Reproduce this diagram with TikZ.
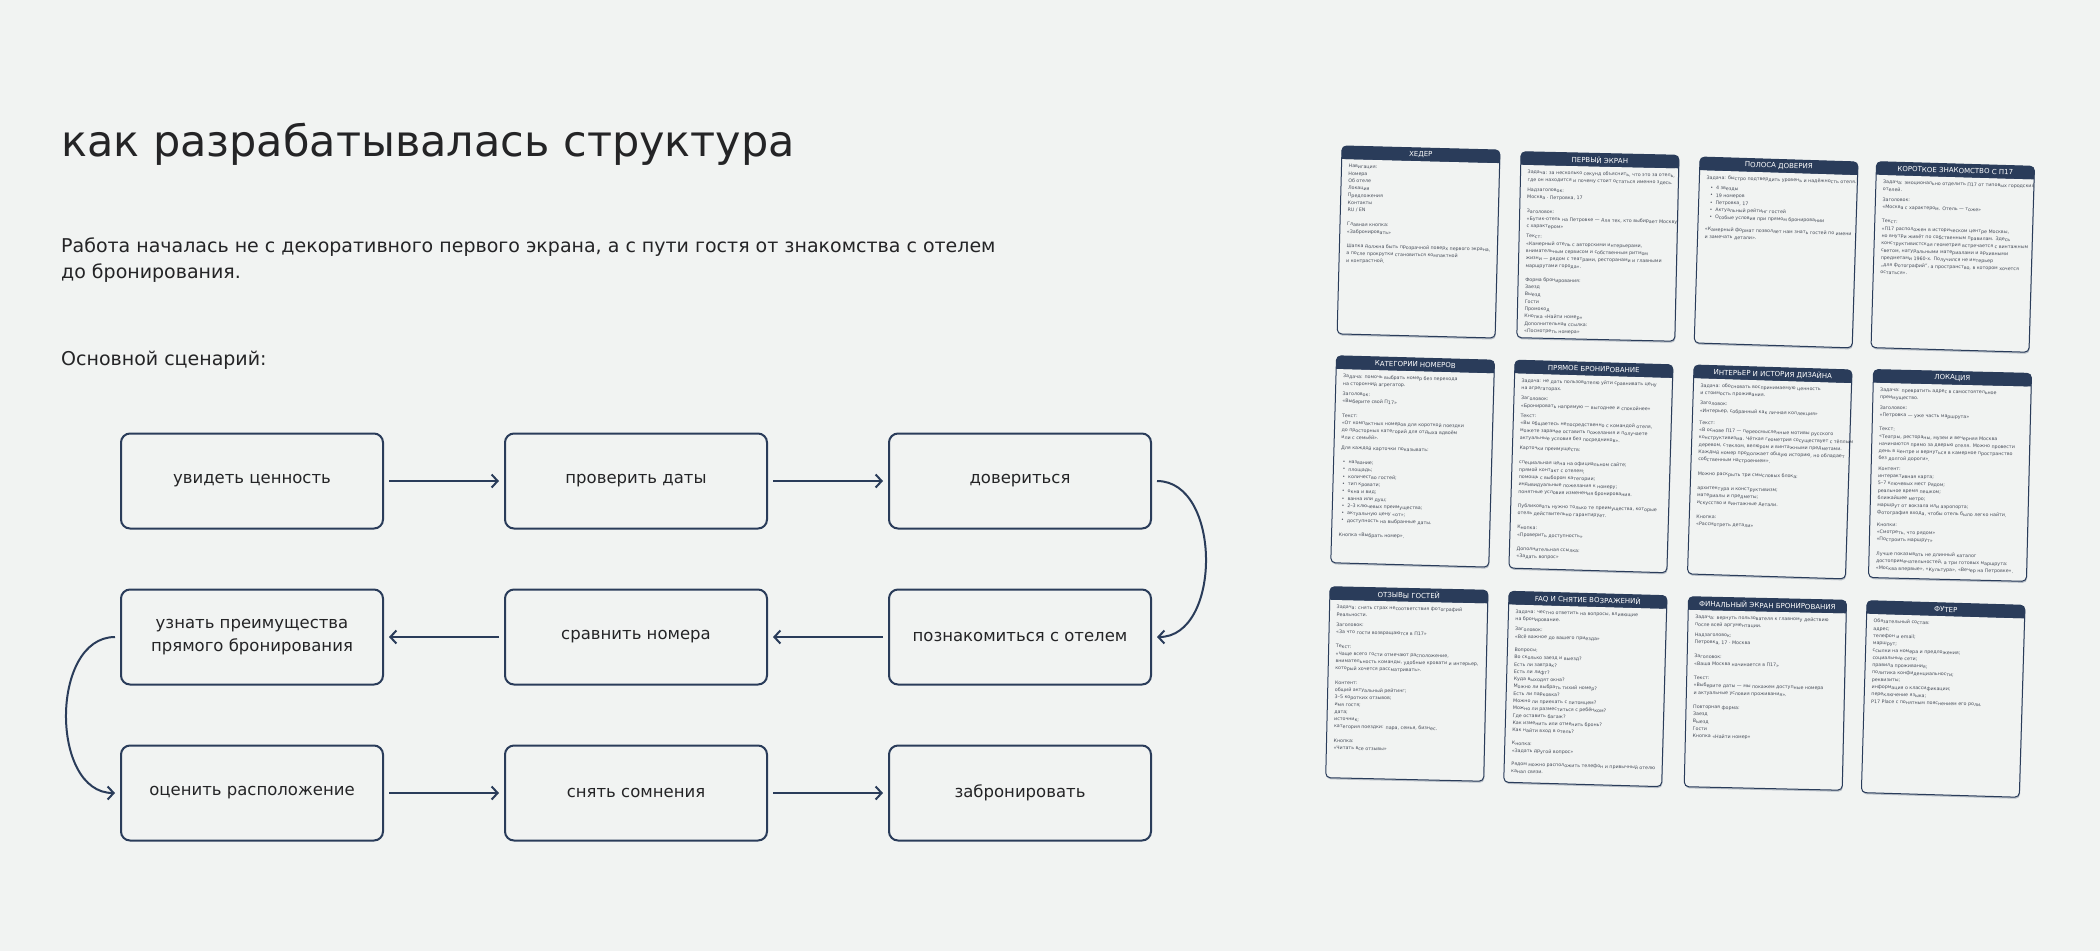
\documentclass[tikz,border=0pt]{standalone}
\usepackage{fontspec}
\setmainfont{DejaVu Sans}
\usetikzlibrary{positioning,arrows.meta,shadows}
\definecolor{pageBg}{RGB}{241,243,242}
\definecolor{navyBlue}{RGB}{42,60,90}
\definecolor{inkGray}{RGB}{36,36,38}
\definecolor{cardInk}{RGB}{72,78,90}

\newcommand{\hotelcard}[7]{%
  \begin{scope}[shift={(#2,#3)}, rotate=#4, transform shape]
    \node[cardbox, minimum height=#5pt] (#1) at (0,0) {};
    \fill[navyBlue, rounded corners=4pt] (-79,0) rectangle (79,13);
    \fill[navyBlue] (-79,7) rectangle (79,13);
    \node[cardhead] (#1-head) at (0,6.5) {#6};
    \node[cardtext] (#1-text) at (-72,18) {#7};
  \end{scope}}

\begin{document}
\begin{tikzpicture}[x=1pt, y=-1pt,
  flowbox/.style={draw=navyBlue, line width=2pt, rounded corners=9pt, fill=pageBg, minimum width=262pt, minimum height=95pt, align=center, text=inkGray, font=\fontsize{16.5}{22.7}\selectfont},
  flowarrow/.style={draw=navyBlue, line width=2pt, -{Straight Barb[length=6pt,width=13pt]}, shorten <=5pt, shorten >=5pt},
  cardbox/.style={anchor=north, draw=navyBlue, line width=1pt, fill=pageBg, rounded corners=4.5pt, minimum width=158pt, inner sep=0pt, outer sep=0pt, drop shadow={shadow xshift=0.6pt, shadow yshift=-1.6pt, opacity=0.3, fill=navyBlue}},
  cardhead/.style={text=white, inner sep=0pt, font=\fontsize{7}{8}\selectfont},
  cardtext/.style={anchor=north west, align=left, inner sep=0pt, text=cardInk, font=\fontsize{4.75}{7.3}\selectfont}]

\path[use as bounding box, fill=pageBg] (0,0) rectangle (2100,951);

\node[anchor=base west, inner sep=0pt, text=inkGray, font=\fontsize{43}{50}\selectfont] (title) at (61,156) {как разрабатывалась структура};
\node[anchor=base west, inner sep=0pt, align=left, text=inkGray, font=\fontsize{19}{26.5}\selectfont] (lead) at (61,278.5) {Работа началась не с декоративного первого экрана, а с пути гостя от знакомства с отелем\\до бронирования.};
\node[anchor=base west, inner sep=0pt, text=inkGray, font=\fontsize{19}{26.5}\selectfont] (scenario) at (61,365) {Основной сценарий:};

\node[flowbox] (value) at (252,481) {увидеть ценность};
\node[flowbox, right=120pt of value] (dates) {проверить даты};
\node[flowbox, right=120pt of dates] (trust) {довериться};
\node[flowbox, below=59pt of trust] (meet) {познакомиться с отелем};
\node[flowbox, left=120pt of meet] (compare) {сравнить номера};
\node[flowbox, left=120pt of compare] (direct) {узнать преимущества\\прямого бронирования};
\node[flowbox, below=59pt of direct] (location) {оценить расположение};
\node[flowbox, right=120pt of location] (doubts) {снять сомнения};
\node[flowbox, right=120pt of doubts] (book) {забронировать};

\draw[flowarrow] (value) -- (dates);
\draw[flowarrow] (dates) -- (trust);
\draw[flowarrow] (trust.east) to[out=0, in=0, looseness=1.15] (meet.east);
\draw[flowarrow] (meet) -- (compare);
\draw[flowarrow] (compare) -- (direct);
\draw[flowarrow] (direct.west) to[out=180, in=180, looseness=1.15] (location.west);
\draw[flowarrow] (location) -- (doubts);
\draw[flowarrow] (doubts) -- (book);

\hotelcard{header}{1421}{148}{-1.5}{188}{ХЕДЕР}{Навигация:\\Номера\\Об отеле\\Локация\\Предложения\\Контакты\\RU / EN\\[7pt]Главная кнопка:\\«Забронировать»\\[7pt]Шапка должна быть прозрачной поверх первого экрана,\\а после прокрутки становиться компактной\\и контрастной.}
\hotelcard{firstscreen}{1600}{153.5}{-1.3}{186}{ПЕРВЫЙ ЭКРАН}{Задача: за несколько секунд объяснить, что это за отель,\\где он находится и почему стоит остаться именно здесь.\\[3pt]Надзаголовок:\\Москва · Петровка, 17\\[7pt]Заголовок:\\«Бутик-отель на Петровке — для тех, кто выбирает Москву\\с характером»\\[3pt]Текст:\\«Камерный отель с авторскими интерьерами,\\внимательным сервисом и собственным ритмом\\жизни — рядом с театрами, ресторанами и главными\\маршрутами города».\\[7pt]Форма бронирования:\\Заезд\\Выезд\\Гости\\Промокод\\Кнопка «Найти номер»\\Дополнительная ссылка:\\«Посмотреть номера»}
\hotelcard{trustbar}{1779}{159.5}{-1.8}{186}{ПОЛОСА ДОВЕРИЯ}{Задача: быстро подтвердить уровень и надёжность отеля.\\[3pt]\hspace*{4pt}•\hspace{3pt}4 звезды\\\hspace*{4pt}•\hspace{3pt}19 номеров\\\hspace*{4pt}•\hspace{3pt}Петровка, 17\\\hspace*{4pt}•\hspace{3pt}Актуальный рейтинг гостей\\\hspace*{4pt}•\hspace{3pt}Особые условия при прямом бронировании\\[5pt]«Камерный формат позволяет нам знать гостей по имени\\и замечать детали».}
\hotelcard{about}{1955.5}{164}{-1.7}{186}{КОРОТКОЕ ЗНАКОМСТВО С П17}{Задача: эмоционально отделить П17 от типовых городских\\отелей.\\[3pt]Заголовок:\\«Москва с характером. Отель — тоже»\\[7pt]Текст:\\«П17 расположен в историческом центре Москвы,\\но внутри живёт по собственным правилам. Здесь\\конструктивистская геометрия встречается с винтажным\\светом, натуральными материалами и архивными\\предметами 1960-х. Получился не интерьер\\„для фотографий“, а пространство, в котором хочется\\остаться».}

\hotelcard{rooms}{1415.5}{358}{-1.6}{207}{КАТЕГОРИИ НОМЕРОВ}{Задача: помочь выбрать номер без перехода\\на сторонний агрегатор.\\[3pt]Заголовок:\\«Выберите свой П17»\\[7pt]Текст:\\«От компактных номеров для короткой поездки\\до просторных категорий для отдыха вдвоём\\или с семьёй».\\[3pt]Для каждой карточки показывать:\\[7pt]\hspace*{2pt}•\hspace{3pt}название;\\\hspace*{2pt}•\hspace{3pt}площадь;\\\hspace*{2pt}•\hspace{3pt}количество гостей;\\\hspace*{2pt}•\hspace{3pt}тип кровати;\\\hspace*{2pt}•\hspace{3pt}окна и вид;\\\hspace*{2pt}•\hspace{3pt}ванна или душ;\\\hspace*{2pt}•\hspace{3pt}2–3 ключевых преимущества;\\\hspace*{2pt}•\hspace{3pt}актуальную цену «от»;\\\hspace*{2pt}•\hspace{3pt}доступность на выбранные даты.\\[7pt]Кнопка «Выбрать номер».}
\hotelcard{directbooking}{1594}{362.5}{-1.7}{208}{ПРЯМОЕ БРОНИРОВАНИЕ}{Задача: не дать пользователю уйти сравнивать цену\\на агрегаторах.\\[3pt]Заголовок:\\«Бронировать напрямую — выгоднее и спокойнее»\\[3pt]Текст:\\«Вы общаетесь непосредственно с командой отеля,\\можете заранее оставить пожелания и получаете\\актуальные условия без посредников».\\[3pt]Карточки преимуществ:\\[7pt]специальная цена на официальном сайте;\\прямой контакт с отелем;\\помощь с выбором категории;\\индивидуальные пожелания к номеру;\\понятные условия изменения бронирования.\\[7pt]Публиковать нужно только те преимущества, которые\\отель действительно гарантирует.\\[7pt]Кнопка:\\«Проверить доступность»\\[7pt]Дополнительная ссылка:\\«Задать вопрос»}
\hotelcard{design}{1773}{367.5}{-1.8}{209}{ИНТЕРЬЕР И ИСТОРИЯ ДИЗАЙНА}{Задача: обосновать воспринимаемую ценность\\и стоимость проживания.\\[3pt]Заголовок:\\«Интерьер, собранный как личная коллекция»\\[5pt]Текст:\\«В основе П17 — переосмысленные мотивы русского\\конструктивизма. Чёткая геометрия сосуществует с тёплым\\деревом, стеклом, велюром и винтажными предметами.\\Каждый номер продолжает общую историю, но обладает\\собственным настроением».\\[7pt]Можно раскрыть три смысловых блока:\\[7pt]архитектура и конструктивизм;\\материалы и предметы;\\искусство и винтажные детали.\\[7pt]Кнопка:\\«Рассмотреть детали»}
\hotelcard{place}{1952.5}{371.5}{-1.4}{208}{ЛОКАЦИЯ}{Задача: превратить адрес в самостоятельное\\преимущество.\\[3pt]Заголовок:\\«Петровка — уже часть маршрута»\\[7pt]Текст:\\«Театры, рестораны, музеи и вечерняя Москва\\начинаются прямо за дверью отеля. Можно провести\\день в центре и вернуться в камерное пространство\\без долгой дороги».\\[3pt]Контент:\\интерактивная карта;\\5–7 ключевых мест рядом;\\реальное время пешком;\\ближайшее метро;\\маршрут от вокзала или аэропорта;\\фотография входа, чтобы отель было легко найти.\\[5pt]Кнопки:\\«Смотреть, что рядом»\\«Построить маршрут»\\[7pt]Лучше показывать не длинный каталог\\достопримечательностей, а три готовых маршрута:\\«Москва впервые», «Культура», «Вечер на Петровке».}

\hotelcard{reviews}{1409}{588.5}{-1.3}{191}{ОТЗЫВЫ ГОСТЕЙ}{Задача: снять страх несоответствия фотографий\\реальности.\\[3pt]Заголовок:\\«За что гости возвращаются в П17»\\[7pt]Текст:\\«Чаще всего гости отмечают расположение,\\внимательность команды, удобные кровати и интерьер,\\который хочется рассматривать».\\[7pt]Контент:\\общий актуальный рейтинг;\\3–5 коротких отзывов;\\имя гостя;\\дата;\\источник;\\категория поездки: пара, семья, бизнес.\\[7pt]Кнопка:\\«Читать все отзывы»}
\hotelcard{faq}{1588}{593.5}{-1.6}{191}{FAQ И СНЯТИЕ ВОЗРАЖЕНИЙ}{Задача: честно ответить на вопросы, влияющие\\на бронирование.\\[3pt]Заголовок:\\«Всё важное до вашего приезда»\\[6pt]Вопросы:\\Во сколько заезд и выезд?\\Есть ли завтрак?\\Есть ли лифт?\\Куда выходят окна?\\Можно ли выбрать тихий номер?\\Есть ли парковка?\\Можно ли приехать с питомцем?\\Можно ли разместиться с ребёнком?\\Где оставить багаж?\\Как изменить или отменить бронь?\\Как найти вход в отель?\\[6pt]Кнопка:\\«Задать другой вопрос»\\[6pt]Рядом можно расположить телефон и привычный отелю\\канал связи.}
\hotelcard{finalscreen}{1767.5}{598.5}{-1.3}{190}{ФИНАЛЬНЫЙ ЭКРАН БРОНИРОВАНИЯ}{Задача: вернуть пользователя к главному действию\\после всей аргументации.\\[3pt]Надзаголовок:\\Петровка, 17 · Москва\\[7pt]Заголовок:\\«Ваша Москва начинается в П17»\\[7pt]Текст:\\«Выберите даты — мы покажем доступные номера\\и актуальные условия проживания».\\[7pt]Повторная форма:\\Заезд\\Выезд\\Гости\\Кнопка «Найти номер»}
\hotelcard{footer}{1946}{603}{-1.7}{192}{ФУТЕР}{Обязательный состав:\\адрес;\\телефон и email;\\маршрут;\\ссылки на номера и предложения;\\социальные сети;\\правила проживания;\\политика конфиденциальности;\\реквизиты;\\информация о классификации;\\переключение языка;\\P17 Place с понятным пояснением его роли.}
\end{tikzpicture}
\end{document}
